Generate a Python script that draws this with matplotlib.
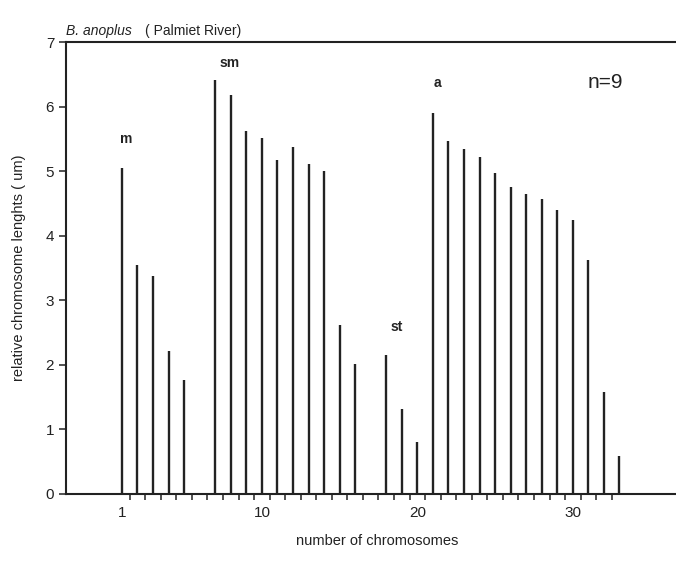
import matplotlib
matplotlib.use("Agg")
import matplotlib.pyplot as plt
import numpy as np

plt.rcParams["font.family"] = ["Liberation Sans", "DejaVu Sans"]

# chromosome position -> relative length (um), grouped by centromere type
m_pos = [1, 2, 3, 4, 5]
m_len = [5.05, 3.55, 3.38, 2.22, 1.77]

sm_pos = [7, 8, 9, 10, 11, 12, 13, 14, 15, 16]
sm_len = [6.42, 6.18, 5.63, 5.52, 5.17, 5.37, 5.11, 5.01, 2.62, 2.02]

st_pos = [18, 19, 20]
st_len = [2.16, 1.32, 0.80]

a_pos = [21, 22, 23, 24, 25, 26, 27, 28, 29, 30, 31, 32, 33]
a_len = [5.90, 5.47, 5.35, 5.22, 4.97, 4.76, 4.65, 4.57, 4.40, 4.24, 3.62, 1.58, 0.59]

group_labels = ["m", "sm", "st", "a"]
label_x = [1.3, 7.9, 18.7, 21.3]
label_y = [5.5, 6.68, 2.58, 6.36]

x_ticks = [1, 10, 20, 30]
y_ticks = [0, 1, 2, 3, 4, 5, 6, 7]

fig = plt.figure(figsize=(6.76, 5.62), dpi=100)
ax = fig.add_axes([0.0976, 0.121, 0.92, 0.804])

for pos, vals in [(m_pos, m_len), (sm_pos, sm_len), (st_pos, st_len), (a_pos, a_len)]:
    ax.vlines(pos, 0, vals, color="#222222", linewidth=1.7)

for lab, lx, ly in zip(group_labels, label_x, label_y):
    ax.text(lx, ly, lab, ha="center", va="center", fontsize=10,
            fontweight="bold", color="#222222")

ax.text(32.1, 6.38, "n=9", ha="center", va="center", fontsize=15, color="#222222")

ax.set_xlim(-2.6, 37.4)
ax.set_ylim(0, 7)
ax.set_xticks(x_ticks)
ax.set_xticks(np.arange(1.5, 33, 1.0), minor=True)
ax.set_yticks(y_ticks)
ax.tick_params(axis="x", which="major", length=0, pad=9, labelsize=11, colors="#222222")
ax.tick_params(axis="x", which="minor", length=4, width=1.1, direction="out", color="#222222")
ax.tick_params(axis="y", length=5, width=1.1, direction="out", labelsize=11, colors="#222222")

for side in ["left", "bottom", "top"]:
    ax.spines[side].set_linewidth(1.5)
    ax.spines[side].set_color("#222222")
ax.spines["right"].set_visible(False)

ax.set_xlabel("number of chromosomes", fontsize=10.5, color="#222222", labelpad=10)
ax.set_ylabel("relative chromosome lenghts ( um)", fontsize=10.5, color="#222222", labelpad=14)

fig.text(0.0976, 0.945, "B. anoplus", fontsize=10, style="italic", color="#222222", va="center")
fig.text(0.215, 0.945, "( Palmiet River)", fontsize=10, color="#222222", va="center")

fig.savefig("out.png", dpi=100)
